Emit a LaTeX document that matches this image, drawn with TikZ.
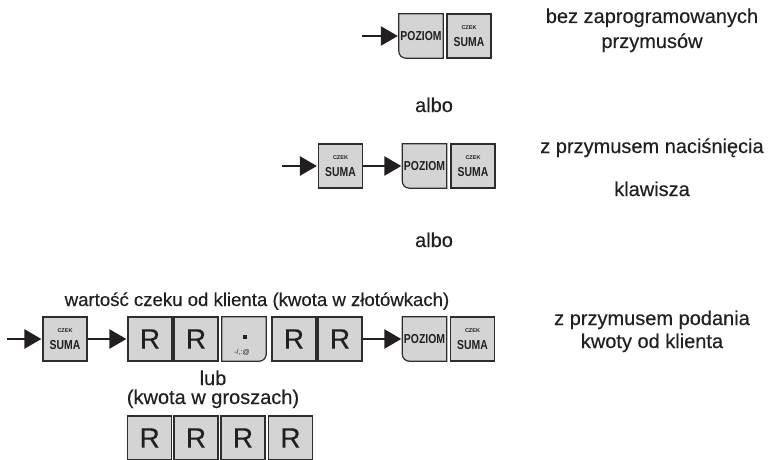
\documentclass[tikz,border=0pt]{standalone}
\usepackage{fontspec}
\setmainfont{Liberation Sans}
\newfontfamily\keyfont[FakeStretch=0.8]{Liberation Sans}
\newfontfamily\czekfont{Liberation Sans}
\newfontfamily\txtfont[FakeBold=0.35]{Liberation Sans}
\usetikzlibrary{arrows.meta}
\pgfdeclarelayer{background}
\pgfsetlayers{background,main}
\definecolor{keyfill}{RGB}{212,212,212}
\definecolor{keyline}{RGB}{45,45,45}
\definecolor{ink}{RGB}{35,31,32}
\newcommand\roundSW[1]{\begin{pgfonlayer}{background}\path[keyshape] (#1.north west) -- (#1.north east) -- (#1.south east) [rounded corners=7pt]-- (#1.south west) [sharp corners]-- cycle;\end{pgfonlayer}}
\newcommand\roundSE[1]{\begin{pgfonlayer}{background}\path[keyshape] (#1.south west) -- (#1.north west) -- (#1.north east) [rounded corners=7pt]-- (#1.south east) [sharp corners]-- cycle;\end{pgfonlayer}}
\begin{document}
\begin{tikzpicture}[x=1pt,y=-1pt,
  keyshape/.style={draw=keyline, fill=keyfill, line width=1.2pt},
  key/.style={keyshape, minimum width=44pt, minimum height=44pt, inner sep=0pt},
  bare/.style={minimum width=44pt, minimum height=44pt, inner sep=0pt, text=ink},
  sumakey/.style={key,
    label={[font=\keyfont\bfseries\fontsize{13}{13}\selectfont, text=ink, inner sep=0pt, yshift=-5.6pt]center:SUMA},
    label={[font=\czekfont\bfseries\fontsize{5.5}{6}\selectfont, text=ink, inner sep=0pt, yshift=8.4pt]center:CZEK}},
  pozkey/.style={bare, font=\keyfont\bfseries\fontsize{13}{13}\selectfont},
  rkey/.style={key, font=\txtfont\fontsize{28}{28}\selectfont, text=ink},
  lbl/.style={font=\txtfont\fontsize{20}{24}\selectfont, text=ink, inner sep=0pt, anchor=base},
  arr/.style={draw=ink, line width=2.6pt, shorten >=1pt, -{Triangle[length=17pt,width=19pt]}}]
\useasboundingbox (0,0) rectangle (773,460);

% row 1
\node[pozkey] (p1) at (421,36) {POZIOM};
\roundSW{p1}
\node[sumakey] (s1) at (469,36) {};
\coordinate (a1) at (362,36);
\draw[arr] (a1) -- (p1);
\node[lbl] (t1) at (652,23) {bez zaprogramowanych};
\node[lbl] (t2) at (652,48) {przymusów};

\node[lbl] (albo1) at (434,112) {albo};

% row 2
\node[sumakey] (s2a) at (340.5,166) {};
\node[pozkey] (p2) at (424.5,166) {POZIOM};
\roundSW{p2}
\node[sumakey] (s2b) at (473,166) {};
\coordinate (a2) at (282,166);
\draw[arr] (a2) -- (s2a);
\draw[arr] (s2a) -- (p2);
\node[lbl] (t3) at (652,153) {z przymusem naciśnięcia};
\node[lbl] (t4) at (652,196) {klawisza};

\node[lbl] (albo2) at (434,247) {albo};

% row 3
\node[lbl, font=\txtfont\fontsize{18.6}{22}\selectfont] (t5) at (257,306) {wartość czeku od klienta (kwota w złotówkach)};
\node[sumakey] (s3a) at (65,339) {};
\node[rkey] (r1) at (150,339) {R};
\node[rkey] (r2) at (196,339) {R};
\node[bare] (dot) at (244,339) {};
\roundSE{dot}
\node[fill=ink, minimum size=4pt, inner sep=0pt] (dotm) at (244.5,336.5) {};
\node[font=\czekfont\fontsize{7}{7}\selectfont, text=ink, inner sep=0pt] (dott) at (242,352) {-/,:@};
\node[rkey] (r3) at (294,339) {R};
\node[rkey] (r4) at (340,339) {R};
\node[pozkey] (p3) at (424.5,339) {POZIOM};
\roundSW{p3}
\node[sumakey] (s3b) at (472.5,339) {};
\coordinate (a3) at (7,339);
\draw[arr] (a3) -- (s3a);
\draw[arr] (s3a) -- (r1);
\draw[arr] (r4) -- (p3);
\node[lbl] (t6) at (652,325) {z przymusem podania};
\node[lbl] (t7) at (652,348) {kwoty od klienta};

% row 4
\node[lbl] (lub) at (213,385) {lub};
\node[lbl] (t8) at (213,404) {(kwota w groszach)};
\node[rkey] (q1) at (149.7,438) {R};
\node[rkey] (q2) at (196,438) {R};
\node[rkey] (q3) at (243,438) {R};
\node[rkey] (q4) at (290.5,438) {R};
\end{tikzpicture}
\end{document}
